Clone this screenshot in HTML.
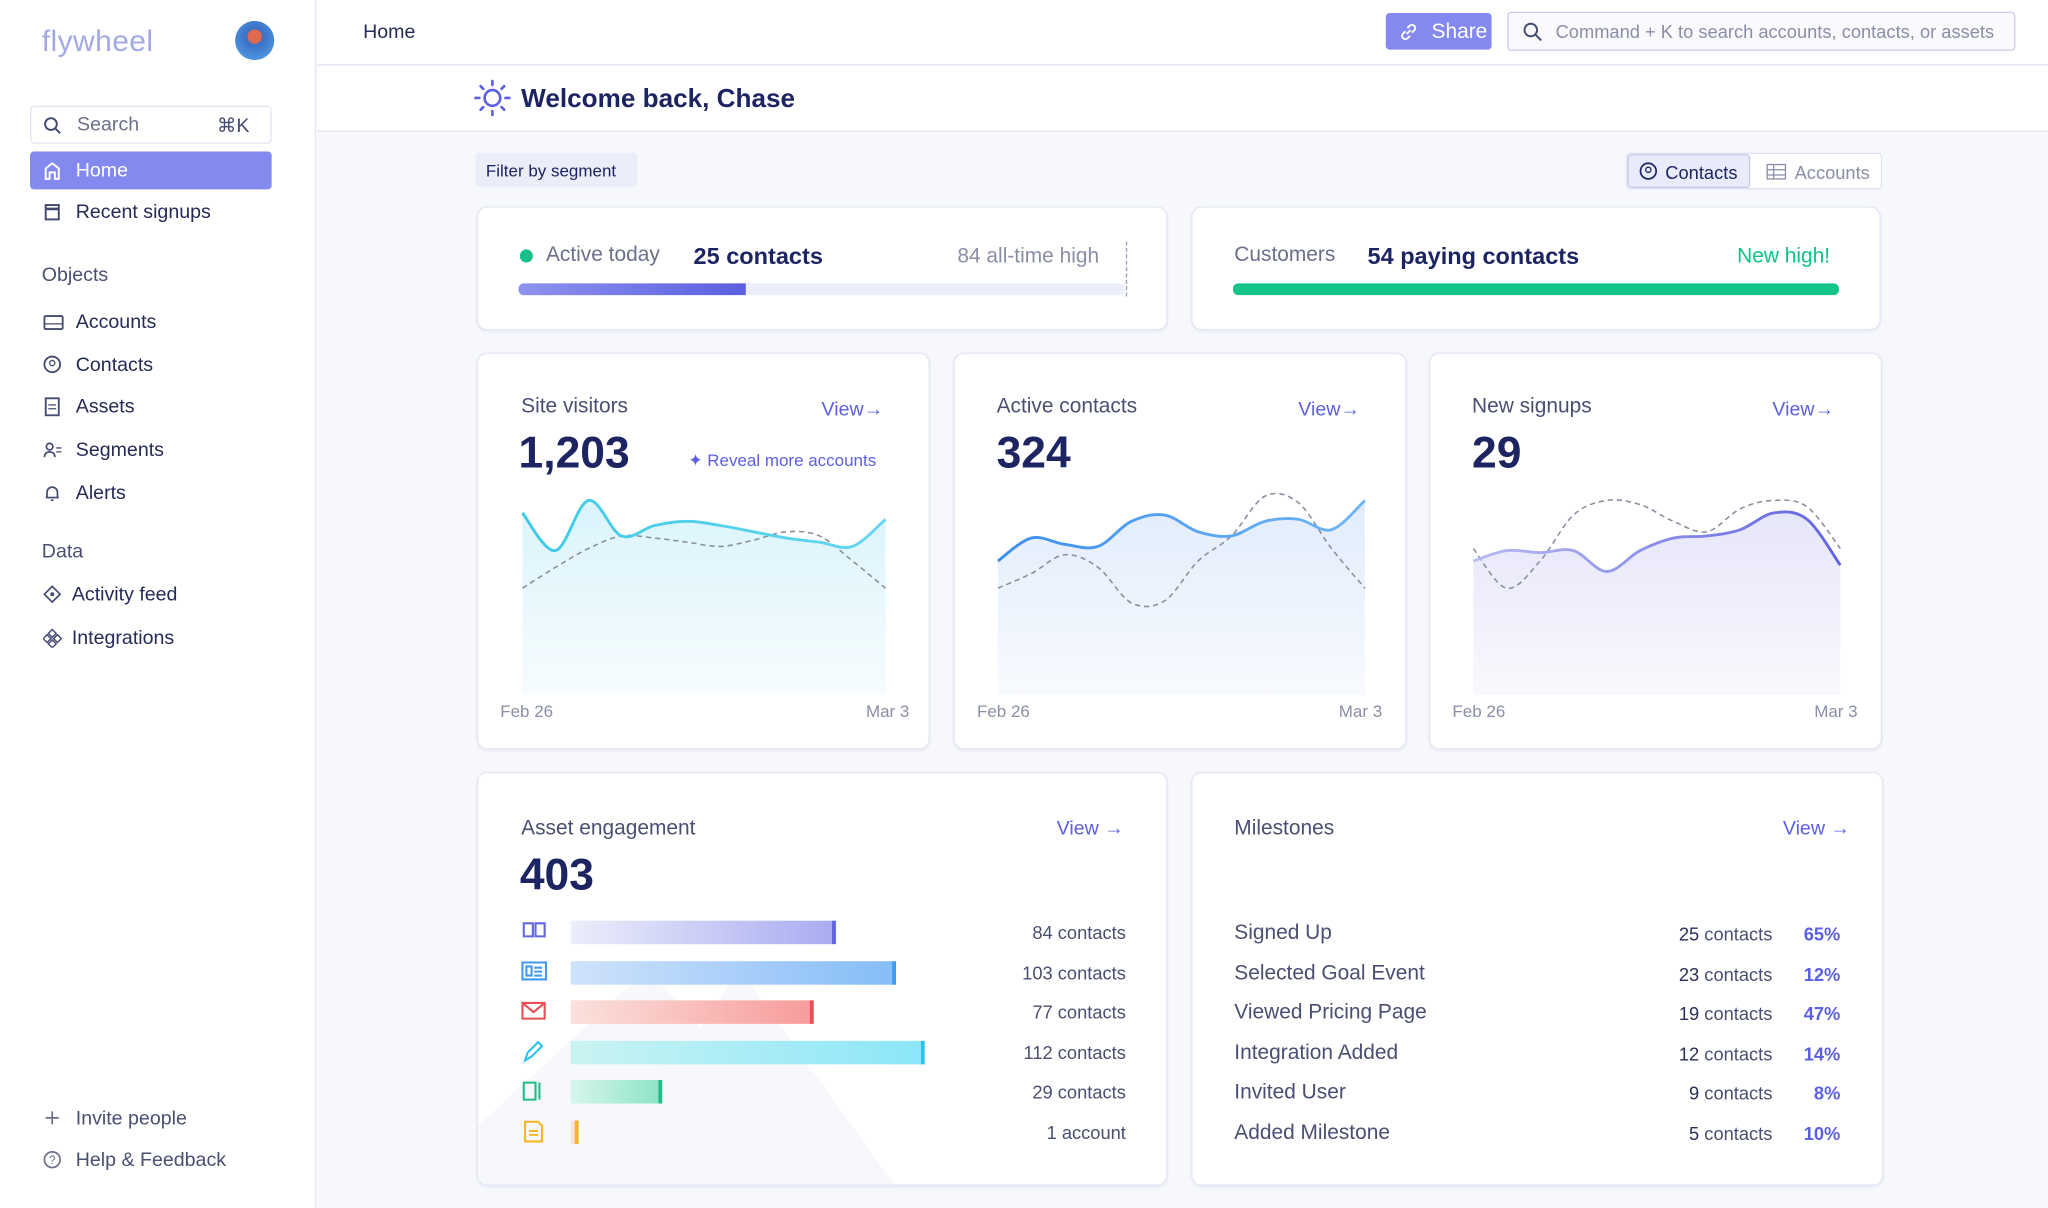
<!DOCTYPE html>
<html><head><meta charset="utf-8">
<style>
*{box-sizing:border-box;margin:0;padding:0}
html,body{width:2048px;height:1208px;overflow:hidden;background:#f6f7fc;font-family:"Liberation Sans",sans-serif}
#root{position:absolute;left:0;top:0;width:1568px;height:925px;transform:scale(1.30612,1.30595);transform-origin:0 0;background:#f7f8fc}
.abs{position:absolute}
.side{left:0;top:0;width:242px;height:925px;background:#fff;border-right:1px solid #e6e8f3}
.nav{position:absolute;left:23px;width:185px;height:29px;font-size:15px;color:#262a56;display:flex;align-items:center;padding-left:35px}
.nav svg{position:absolute;left:10px;top:7px}
.sec{position:absolute;left:32px;font-size:15px;color:#4a4f72}
.card{position:absolute;background:#fff;border:1.5px solid #e3e5f3;border-radius:8px;box-shadow:0 1px 2px rgba(80,90,160,.08)}
.t{position:absolute;white-space:nowrap}
.view{color:#5b5fe0;font-size:15px}
.gray{color:#6b6f8a}
.big{font-size:34px;font-weight:bold;color:#1c2461}
</style></head><body>
<div id="root">
<div class="abs side">
  <div class="t" style="left:32px;top:18px;font-size:23px;color:#a3a8e6;letter-spacing:.3px">flywheel</div>
  <div class="abs" style="left:180px;top:16px;width:30px;height:30px;border-radius:50%;background:radial-gradient(circle at 50% 40%,#e06a4f 0 5px,#3b6fc7 6px,#57a8e8 100%)"></div>
  <div class="abs" style="left:23px;top:81px;width:185px;height:29px;border:1px solid #e3e5f1;border-radius:3px">
    <svg class="abs" style="left:9px;top:7px" width="14" height="14"><circle cx="6" cy="6" r="4.5" fill="none" stroke="#444a70" stroke-width="1.5"/><line x1="9.5" y1="9.5" x2="13" y2="13" stroke="#444a70" stroke-width="1.5"/></svg>
    <div class="t" style="left:35px;top:5px;font-size:15px;color:#6b6f8a">Search</div>
    <div class="t" style="left:142px;top:5px;font-size:15px;color:#444a70">⌘K</div>
  </div>
  <div class="nav" style="top:116px;background:#8389ef;color:#fff;border-radius:3px"><svg width="14" height="15"><path d="M2 14V6l5-4 5 4v8H9V9H5v5z" fill="none" stroke="#fff" stroke-width="1.5"/></svg>Home</div>
  <div class="nav" style="top:148px"><svg width="14" height="15"><rect x="2" y="2" width="10" height="11" fill="none" stroke="#444a70" stroke-width="1.5"/><line x1="2" y1="5" x2="12" y2="5" stroke="#444a70" stroke-width="2"/></svg>Recent signups</div>
  <div class="sec" style="top:202px">Objects</div>
  <div class="nav" style="top:232px"><svg width="16" height="15"><rect x="1" y="3" width="14" height="10" rx="1" fill="none" stroke="#444a70" stroke-width="1.4"/><line x1="1" y1="9" x2="15" y2="9" stroke="#444a70"/></svg>Accounts</div>
  <div class="nav" style="top:265px"><svg width="15" height="15"><circle cx="7" cy="7" r="6" fill="none" stroke="#444a70" stroke-width="1.4"/><circle cx="7" cy="6" r="2" fill="none" stroke="#444a70"/></svg>Contacts</div>
  <div class="nav" style="top:297px"><svg width="15" height="15"><rect x="2" y="1" width="10" height="13" fill="none" stroke="#444a70" stroke-width="1.4"/><line x1="4" y1="6" x2="10" y2="6" stroke="#444a70"/><line x1="4" y1="9" x2="10" y2="9" stroke="#444a70"/></svg>Assets</div>
  <div class="nav" style="top:330px"><svg width="15" height="15"><circle cx="5" cy="5" r="2.5" fill="none" stroke="#444a70" stroke-width="1.3"/><path d="M1 13c0-3 2-4 4-4s4 1 4 4" fill="none" stroke="#444a70" stroke-width="1.3"/><line x1="10" y1="6" x2="14" y2="6" stroke="#444a70"/><line x1="10" y1="9" x2="14" y2="9" stroke="#444a70"/></svg>Segments</div>
  <div class="nav" style="top:363px"><svg width="15" height="15"><path d="M3 11V7a4 4 0 018 0v4zM2 11h10M6 13h2" fill="none" stroke="#444a70" stroke-width="1.3"/></svg>Alerts</div>
  <div class="sec" style="top:414px">Data</div>
  <div class="nav" style="top:441px;padding-left:32px"><svg width="15" height="15"><path d="M7 1l6 6-6 6-6-6z" fill="none" stroke="#444a70" stroke-width="1.3"/><circle cx="7" cy="7" r="1.5" fill="#444a70"/></svg>Activity feed</div>
  <div class="nav" style="top:474px;padding-left:32px"><svg width="15" height="15"><path d="M7 1l3 3-3 3-3-3zM3 5l3 3-3 3-3-3zM11 5l3 3-3 3-3-3zM7 9l3 3-3 3-3-3z" fill="none" stroke="#444a70" stroke-width="1.1"/></svg>Integrations</div>
  <div class="nav" style="top:842px;color:#4a4f72"><svg width="15" height="15"><path d="M7 2v10M2 7h10" stroke="#6b6f8a" stroke-width="1.3"/></svg>Invite people</div>
  <div class="nav" style="top:874px;color:#4a4f72"><svg width="15" height="15"><circle cx="7" cy="7" r="6" fill="none" stroke="#6b6f8a" stroke-width="1.3"/><text x="4.5" y="10.5" font-size="9" fill="#6b6f8a" font-family="Liberation Sans">?</text></svg>Help &amp; Feedback</div>
</div>

<div class="abs" style="left:243px;top:0;width:1325px;height:50px;background:#fff;border-bottom:1.5px solid #e3e5f3">
  <div class="t" style="left:35px;top:16px;font-size:15px;color:#262a56">Home</div>
  <div class="abs" style="left:818px;top:10px;width:81px;height:28px;background:#8389ef;border-radius:3px;color:#fff;font-size:16px;padding:6px 0 0 35px"><svg class="abs" style="left:10px;top:7px" width="15" height="15"><path d="M6 9l3-3M5 7L3 9a2.5 2.5 0 003.5 3.5L8.5 10.5M10 8l2-2A2.5 2.5 0 008.5 2.5L6.5 4.5" fill="none" stroke="#fff" stroke-width="1.5"/></svg>Share</div>
  <div class="abs" style="left:911px;top:9px;width:389px;height:30px;border:1.5px solid #c8cbf0;border-radius:3px;background:#f9f9fe">
    <svg class="abs" style="left:11px;top:7px" width="15" height="15"><circle cx="6" cy="6" r="4.8" fill="none" stroke="#444a70" stroke-width="1.5"/><line x1="9.5" y1="9.5" x2="14" y2="14" stroke="#444a70" stroke-width="1.5"/></svg>
    <div class="t" style="left:36px;top:6px;font-size:14px;color:#8a8ea6">Command + K to search accounts, contacts, or assets</div>
  </div>
</div>
<div class="abs" style="left:243px;top:51px;width:1325px;height:50px;background:#fff;border-bottom:1.5px solid #e3e5f3">
  <svg class="abs" style="left:120px;top:10px" width="28" height="28"><circle cx="14" cy="14" r="6" fill="none" stroke="#5b5fe0" stroke-width="2"/><g stroke="#5b5fe0" stroke-width="2" stroke-linecap="round"><path d="M14 1v3M14 24v3M1 14h3M24 14h3M5 5l2 2M21 21l2 2M5 23l2-2M21 7l2-2"/></g></svg>
  <div class="t" style="left:156px;top:14px;font-size:20px;font-weight:bold;color:#1c2461">Welcome back, Chase</div>
</div>

<div class="abs" style="left:364px;top:117px;width:124px;height:26px;background:#ebedf9;border-radius:3px;font-size:13px;color:#1c2461;padding:6px 0 0 8px">Filter by segment</div>
<div class="abs" style="left:1245px;top:117px;width:196px;height:28px;border:1px solid #dfe1ef;border-radius:3px;background:#fff">
  <div class="abs" style="left:0;top:0;width:94px;height:26px;background:#e9ebfa;border:1px solid #c5c9f0;border-radius:3px;font-size:14px;color:#1c2461;padding:5px 0 0 28px"><svg class="abs" style="left:8px;top:5px" width="15" height="15"><circle cx="7" cy="7" r="6" fill="none" stroke="#1c2461" stroke-width="1.3"/><circle cx="7" cy="6" r="2" fill="none" stroke="#1c2461"/></svg>Contacts</div>
  <div class="abs" style="left:96px;top:0;width:99px;height:26px;font-size:14px;color:#8a8ea6;padding:6px 0 0 32px"><svg class="abs" style="left:10px;top:7px" width="16" height="13"><rect x="1" y="1" width="14" height="11" fill="none" stroke="#8a8ea6"/><path d="M1 5h14M1 9h14M6 1v11" stroke="#8a8ea6"/></svg>Accounts</div>
</div>

<div class="card" style="left:365px;top:158px;width:529px;height:95px">
  <div class="abs" style="left:32px;top:32px;width:10px;height:10px;border-radius:50%;background:#18c08b"></div>
  <div class="t gray" style="left:52px;top:28px;font-size:16px">Active today</div>
  <div class="t" style="left:165px;top:27px;font-size:18px;font-weight:bold;color:#1c2461">25 contacts</div>
  <div class="t" style="left:367px;top:29px;font-size:16px;color:#8a8ea6">84 all-time high</div>
  <div class="abs" style="left:496px;top:26px;height:42px;border-left:1px dashed #9a9db5"></div>
  <div class="abs" style="left:31px;top:58px;width:464px;height:9px;background:#eceefa;border-radius:4px"></div>
  <div class="abs" style="left:31px;top:58px;width:174px;height:9px;background:linear-gradient(90deg,#8e92ee,#5b5fe0);border-radius:4px 0 0 4px"></div>
</div>
<div class="card" style="left:912px;top:158px;width:528px;height:95px">
  <div class="t gray" style="left:32px;top:28px;font-size:16px">Customers</div>
  <div class="t" style="left:134px;top:27px;font-size:18px;font-weight:bold;color:#1c2461">54 paying contacts</div>
  <div class="t" style="left:417px;top:29px;font-size:16px;color:#12c08a;font-weight:500">New high!</div>
  <div class="abs" style="left:31px;top:58px;width:464px;height:9px;background:#14c48b;border-radius:4px"></div>
</div>

<div class="card" style="left:365px;top:270px;width:347px;height:304px">
  <div class="t gray" style="left:33px;top:32px;font-size:16px;color:#4a4f72">Site visitors</div>
  <div class="t view" style="left:263px;top:34px">View→</div>
  <div class="t big" style="left:31px;top:57px">1,203</div>
  <div class="t" style="left:161px;top:74px;font-size:13px;color:#5b5fe0">✦ Reveal more accounts</div>
  <div class="t" style="left:17px;top:266px;font-size:13px;color:#8a8ea6">Feb 26</div>
  <div class="t" style="left:297px;top:266px;font-size:13px;color:#8a8ea6">Mar 3</div>
</div>
<div class="card" style="left:730px;top:270px;width:347px;height:304px">
  <div class="t" style="left:32px;top:32px;font-size:16px;color:#4a4f72">Active contacts</div>
  <div class="t view" style="left:263px;top:34px">View→</div>
  <div class="t big" style="left:32px;top:57px">324</div>
  <div class="t" style="left:17px;top:266px;font-size:13px;color:#8a8ea6">Feb 26</div>
  <div class="t" style="left:294px;top:266px;font-size:13px;color:#8a8ea6">Mar 3</div>
</div>
<div class="card" style="left:1094px;top:270px;width:347px;height:304px">
  <div class="t" style="left:32px;top:32px;font-size:16px;color:#4a4f72">New signups</div>
  <div class="t view" style="left:262px;top:34px">View→</div>
  <div class="t big" style="left:32px;top:57px">29</div>
  <div class="t" style="left:17px;top:266px;font-size:13px;color:#8a8ea6">Feb 26</div>
  <div class="t" style="left:294px;top:266px;font-size:13px;color:#8a8ea6">Mar 3</div>
</div>

<div class="card" style="left:365px;top:591px;width:529px;height:317px;overflow:hidden">
  <svg class="abs" style="left:0;top:0" width="529" height="317"><path d="M0 317 L0 270 L130 150 L170 195 L200 150 L320 317z" fill="#f7f8fc"/></svg>
  <div class="t" style="left:33px;top:34px;font-size:16px;color:#4a4f72">Asset engagement</div>
  <div class="t view" style="left:443px;top:34px">View →</div>
  <div class="t big" style="left:32px;top:59px">403</div>
  <div id="bars"></div>
</div>
<div class="card" style="left:912px;top:591px;width:530px;height:317px">
  <div class="t" style="left:32px;top:34px;font-size:16px;color:#4a4f72">Milestones</div>
  <div class="t view" style="left:452px;top:34px">View →</div>
  <div id="miles"></div>
</div>
<svg id="spark" class="abs" style="left:0;top:0" width="1568" height="925">
  <defs>
    <linearGradient id="f1" x1="0" y1="0" x2="0" y2="1"><stop offset="0" stop-color="#d9f4fb"/><stop offset="1" stop-color="#f7fcfe"/></linearGradient>
    <linearGradient id="f2" x1="0" y1="0" x2="0" y2="1"><stop offset="0" stop-color="#e1ecfc"/><stop offset="1" stop-color="#f8fafe"/></linearGradient>
    <linearGradient id="f3" x1="0" y1="0" x2="0" y2="1"><stop offset="0" stop-color="#e6e6fa"/><stop offset="1" stop-color="#f8f8fd"/></linearGradient>
    <linearGradient id="s1" x1="0" x2="1"><stop offset="0" stop-color="#3bc9e8"/><stop offset="1" stop-color="#66d6ef"/></linearGradient>
    <linearGradient id="s2" x1="0" x2="1"><stop offset="0" stop-color="#3d8ef0"/><stop offset="1" stop-color="#6fb5f5"/></linearGradient>
    <linearGradient id="s3" x1="0" x2="1"><stop offset="0" stop-color="#b8bbf3"/><stop offset="1" stop-color="#5f63e2"/></linearGradient>
  </defs>
</svg>
</div>
<script>
// sparkline data (value scale 0-100)
const visitorsSolid=[87,69,93,76,81,83,81,78,75,73,71,84];
const visitorsDashed=[51,61,70,76,75,73,71,74,78,76,64,51];
const contactsSolid=[64,75,72,71,83,86,78,76,83,84,79,93];
const contactsDashed=[51,58,67,61,44,45,64,76,95,92,70,51];
const signupsSolid=[64,69,68,69,59,69,75,76,79,87,84,62];
const signupsDashed=[70,51,64,86,93,91,83,78,89,93,90,70];
// asset engagement
const assetContacts=[84,103,77,112,29,1];
const assetLabels=["84 contacts","103 contacts","77 contacts","112 contacts","29 contacts","1 account"];
// milestones
const milestoneNames=["Signed Up","Selected Goal Event","Viewed Pricing Page","Integration Added","Invited User","Added Milestone"];
const milestoneContacts=[25,23,19,12,9,5];
const milestonePct=[65,12,47,14,8,10];

const NS="http://www.w3.org/2000/svg";
const svg=document.getElementById('spark');
function yScale(v){return 532-v*1.6;}
function pts(arr,x0,x1){return arr.map((v,i)=>[x0+(x1-x0)*i/(arr.length-1),yScale(v)]);}
function smooth(p){let d="M"+p[0][0]+" "+p[0][1];for(let i=0;i<p.length-1;i++){const a=p[i-1]||p[i],b=p[i],c=p[i+1],e=p[i+2]||c;d+=" C"+(b[0]+(c[0]-a[0])/6)+" "+(b[1]+(c[1]-a[1])/6)+" "+(c[0]-(e[0]-b[0])/6)+" "+(c[1]-(e[1]-b[1])/6)+" "+c[0]+" "+c[1];}return d;}
function spark(solid,dashed,x0,x1,fill,stroke,name){
  const ps=pts(solid,x0,x1),pd=pts(dashed,x0,x1);
  const area=document.createElementNS(NS,'path');
  area.setAttribute('d',smooth(ps)+" L"+x1+" 532 L"+x0+" 532Z");
  area.setAttribute('fill',fill);
  
  
  svg.appendChild(area);
  const dl=document.createElementNS(NS,'path');
  dl.setAttribute('d',smooth(pd));dl.setAttribute('fill','none');dl.setAttribute('stroke','#8a8d9e');dl.setAttribute('stroke-width','1.2');dl.setAttribute('stroke-dasharray','4 3');
  
  
  svg.appendChild(dl);
  const sl=document.createElementNS(NS,'path');
  sl.setAttribute('d',smooth(ps));sl.setAttribute('fill','none');sl.setAttribute('stroke',stroke);sl.setAttribute('stroke-width','2.2');
  
  
  svg.appendChild(sl);
}
spark(visitorsSolid,visitorsDashed,400,678,'url(#f1)','url(#s1)','site-visitors');
spark(contactsSolid,contactsDashed,764,1045,'url(#f2)','url(#s2)','active-contacts');
spark(signupsSolid,signupsDashed,1128,1409,'url(#f3)','url(#s3)','new-signups');

const barColors=[["#eceefb","#a9acf0","#6266e3"],["#cfe2fb","#86bdf8","#3f9af0"],["#fbe1dc","#f79c9c","#ea4f56"],["#c9f3f2","#8ce6f9","#2cc2ec"],["#d7f5ec","#8fe4c7","#1fbe86"],["#fbe4dc","#fbe4dc","#f5b526"]];
const icons=["M3 3h7v10H3zM12 3h7v10h-7z","M2 2h18v13H2zM5 5h4v7H5zM11 6h6M11 9h6M11 12h6","M2 3h17v12H2zM2 3l8.5 7L19 3","M4 16l2-6 8-8 3 3-8 8z","M3 3h9v13H3zM15 3v13","M4 2h10l3 3v12H4zM7 9h7M7 12h7"];
const bars=document.getElementById('bars');
function bx(v){return 72+Math.max(v*2.42,6);}
assetContacts.forEach((v,i)=>{
  const y=113+i*30.5;
  const ic=document.createElement('div');
  
  
  ic.style.cssText=`position:absolute;left:32px;top:${y-1}px;width:22px;height:18px`;
  ic.innerHTML=`<svg width="22" height="18"><path d="${icons[i]}" fill="none" stroke="${barColors[i][2]}" stroke-width="1.6"/></svg>`;
  bars.appendChild(ic);
  const b=document.createElement('div');
  
  
  const w=bx(v)-72;
  b.style.cssText=`position:absolute;left:71px;top:${y}px;width:${w}px;height:18px;background:linear-gradient(90deg,${barColors[i][0]},${barColors[i][1]});border-right:3px solid ${barColors[i][2]}`;
  bars.appendChild(b);
  const l=document.createElement('div');
  
  
  l.textContent=assetLabels[i];
  l.style.cssText=`position:absolute;right:31px;top:${y+1}px;font-size:14px;color:#4a4f72;white-space:nowrap`;
  bars.appendChild(l);
});
const miles=document.getElementById('miles');
milestoneNames.forEach((n,i)=>{
  const y=114+i*30.5;
  const r=document.createElement('div');
  
  
  r.style.cssText=`position:absolute;left:32px;top:${y}px;width:464px;height:20px;font-size:16px;color:#4a4f72`;
  r.innerHTML=`<span style="position:absolute;left:0;top:0">${n}</span><span style="position:absolute;right:52px;top:1px;font-size:14px;color:#4a4f72"><b style="font-weight:normal;color:#2a2f55">${milestoneContacts[i]}</b> contacts</span><span style="position:absolute;right:0;top:1px;font-size:14px;font-weight:bold;color:#5b5fe0">${milestonePct[i]}%</span>`;
  miles.appendChild(r);
});
</script>
</body></html>
